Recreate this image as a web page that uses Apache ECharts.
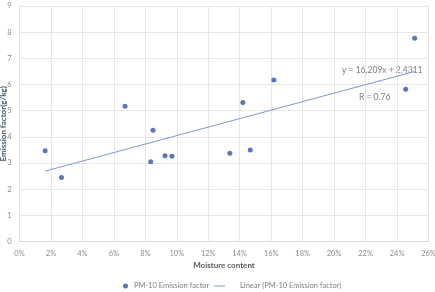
<!DOCTYPE html>
<html>
<head>
<meta charset="utf-8">
<script src="https://cdn.jsdelivr.net/npm/echarts@6/dist/echarts.min.js"></script>
<style>
  html, body { margin: 0; padding: 0; background: #fff; }
  #chart { width: 435px; height: 292px; }
</style>
</head>
<body>
<div id="chart"></div>
<script>
// moisture content (fraction) and PM-10 emission factor (g/kg)
const moisture = [0.0163, 0.0267, 0.0671, 0.0849, 0.0834, 0.0925, 0.0969, 0.1337, 0.1467, 0.1420, 0.1617, 0.2512, 0.2455];
const emission = [3.47, 2.45, 5.17, 4.25, 3.05, 3.28, 3.26, 3.37, 3.50, 5.31, 6.17, 7.77, 5.82];
// trendline end points
const trendX = [0.0163, 0.2512];
const trendY = [2.69, 6.50];
const equationText = "y = 16.209x + 2.4311";
const rText = "R = 0.76";

const fontFamily = "Lato, 'Noto Sans', sans-serif";
const chart = echarts.init(document.getElementById("chart"));

const scatterData = moisture.map((m, i) => [m, emission[i]]);
const trendData = trendX.map((x, i) => [x, trendY[i]]);

chart.setOption({
  animation: false,
  textStyle: { fontFamily: fontFamily },
  grid: { left: 19.5, right: 6.5, top: 6, bottom: 50.5, outerBoundsMode: "none", containLabel: false },
  xAxis: {
    type: "value",
    min: 0,
    max: 0.26,
    interval: 0.02,
    name: "Moisture content",
    nameLocation: "middle",
    nameGap: 20,
    nameMoveOverlap: false,
    nameTextStyle: { fontSize: 8, fontWeight: "bold", color: "#595959" },
    axisLine: { lineStyle: { color: "#d9d9d9" } },
    axisTick: { show: false },
    axisLabel: {
      fontSize: 7.5,
      color: "#8c8c8c",
      margin: 8,
      formatter: (v) => Math.round(v * 100) + "%",
    },
    splitLine: { show: true, lineStyle: { color: "#e6e6e6" } },
  },
  yAxis: {
    type: "value",
    min: 0,
    max: 9,
    interval: 1,
    name: "Emission factor(g/kg)",
    nameLocation: "middle",
    nameGap: 12,
    nameMoveOverlap: false,
    nameTextStyle: { fontSize: 8, fontWeight: "bold", color: "#44546a" },
    axisLine: { show: false },
    axisTick: { show: false },
    axisLabel: { fontSize: 7.5, color: "#8c8c8c", margin: 8 },
    splitLine: { lineStyle: { color: "#e6e6e6" } },
  },
  legend: [
    {
      data: ["PM-10 Emission factor"],
      left: 118,
      top: 277,
      icon: "circle",
      itemWidth: 5,
      itemHeight: 5,
      itemGap: 4,
      textStyle: { fontSize: 7.5, color: "#7f7f7f", padding: [0, 0, 0, 1] },
    },
    {
      data: ["Linear (PM-10 Emission factor)"],
      left: 209,
      top: 277,
      icon: "rect",
      itemWidth: 11,
      itemHeight: 1,
      textStyle: { fontSize: 7.5, color: "#7f7f7f", padding: [0, 0, 0, 10] },
    },
  ],
  series: [
    {
      name: "PM-10 Emission factor",
      type: "scatter",
      data: scatterData,
      symbolSize: 5,
      itemStyle: { color: "#2f55a4" },
    },
    {
      name: "Linear (PM-10 Emission factor)",
      type: "line",
      data: trendData,
      symbol: "none",
      lineStyle: { color: "#7f96d2", width: 1 },
      itemStyle: { color: "#7f96d2" },
    },
  ],
  graphic: [
    {
      type: "text",
      left: 342,
      top: 66,
      style: { text: equationText, fontSize: 8.5, fill: "#7f7f7f", fontFamily: fontFamily },
    },
    {
      type: "text",
      left: 359,
      top: 93,
      style: { text: rText, fontSize: 8.5, fill: "#7f7f7f", fontFamily: fontFamily },
    },
  ],
});
</script>
</body>
</html>
